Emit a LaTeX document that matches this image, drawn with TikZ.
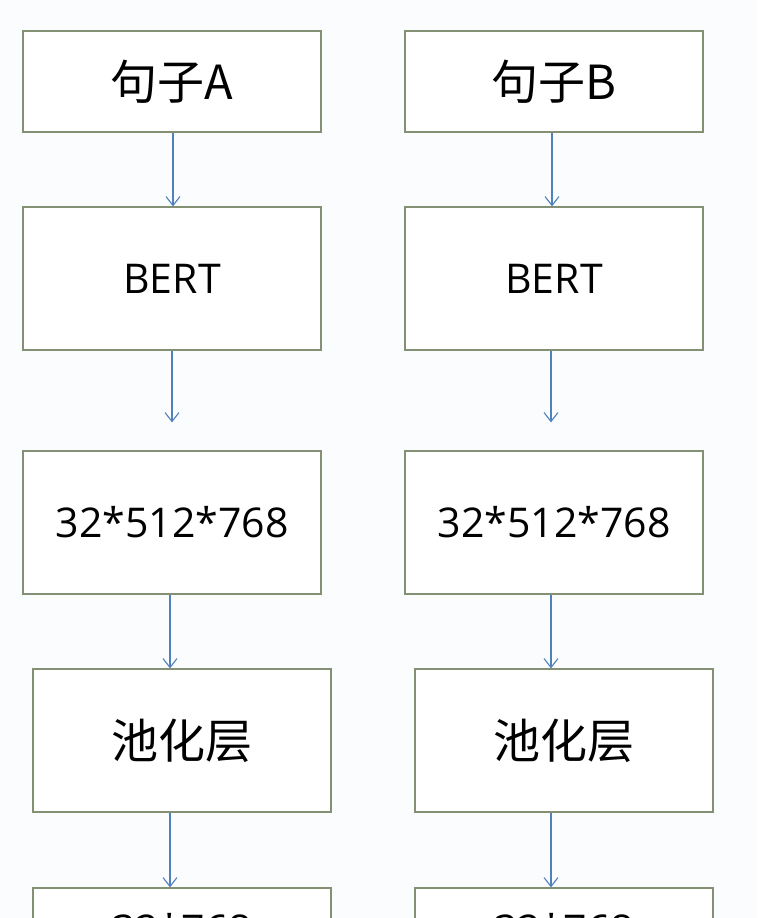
\documentclass[tikz,border=0pt]{standalone}
\usepackage{fontspec}
\setmainfont{Open Sans}
\newfontfamily\cjk{Noto Sans CJK SC}
\usetikzlibrary{arrows.meta}
\definecolor{bgc}{RGB}{251,252,253}
\definecolor{boxline}{RGB}{132,144,116}
\definecolor{arrowblue}{RGB}{79,129,189}
\begin{document}
\begin{tikzpicture}[x=1pt,y=-1pt,
  box/.style={draw=boxline, line width=1.2pt, fill=white, minimum width=298pt, inner sep=0pt, text=black},
  cjktext/.style={font=\cjk\fontsize{47}{50}\selectfont},
  lattext/.style={font=\fontsize{41}{46}\selectfont},
  conn/.style={draw=arrowblue, line width=1.1pt, -{Straight Barb[length=9pt,width=14pt]}}]
\useasboundingbox (0,0) rectangle (758,918);
\fill[bgc] (0,0) rectangle (758,918);
\clip (0,0) rectangle (758,918);
% left column
\node[box, cjktext, minimum height=101pt] (A1) at (172,81.5) {句子A};
\node[box, lattext, minimum height=143pt] (A2) at (172,278.5) {BERT};
\node[box, lattext, minimum height=143pt] (A3) at (172,522.5) {32*512*768};
\node[box, cjktext, minimum height=143pt] (A4) at (182,740.5) {池化层};
\node[box, lattext, minimum height=82pt] (A5) at (182,929) {32*768};
% right column
\node[box, cjktext, minimum height=101pt] (B1) at (554,81.5) {句子B};
\node[box, lattext, minimum height=143pt] (B2) at (554,278.5) {BERT};
\node[box, lattext, minimum height=143pt] (B3) at (554,522.5) {32*512*768};
\node[box, cjktext, minimum height=143pt] (B4) at (564,740.5) {池化层};
\node[box, lattext, minimum height=82pt] (B5) at (564,929) {32*768};
% connectors
\draw[conn] ([xshift=1pt]A1.south) -- ([xshift=1pt]A2.north);
\draw[conn] (A2.south) -- ([yshift=28pt]A3.north);
\draw[conn] ([xshift=-2pt]A3.south) -- ([xshift=-12pt]A4.north);
\draw[conn] ([xshift=-12pt]A4.south) -- ([xshift=-12pt]A5.north);
\draw[conn] ([xshift=-2pt]B1.south) -- ([xshift=-2pt]B2.north);
\draw[conn] ([xshift=-3pt]B2.south) -- ([xshift=-3pt,yshift=28pt]B3.north);
\draw[conn] ([xshift=-3pt]B3.south) -- ([xshift=-13pt]B4.north);
\draw[conn] ([xshift=-13pt]B4.south) -- ([xshift=-13pt]B5.north);
\end{tikzpicture}
\end{document}
